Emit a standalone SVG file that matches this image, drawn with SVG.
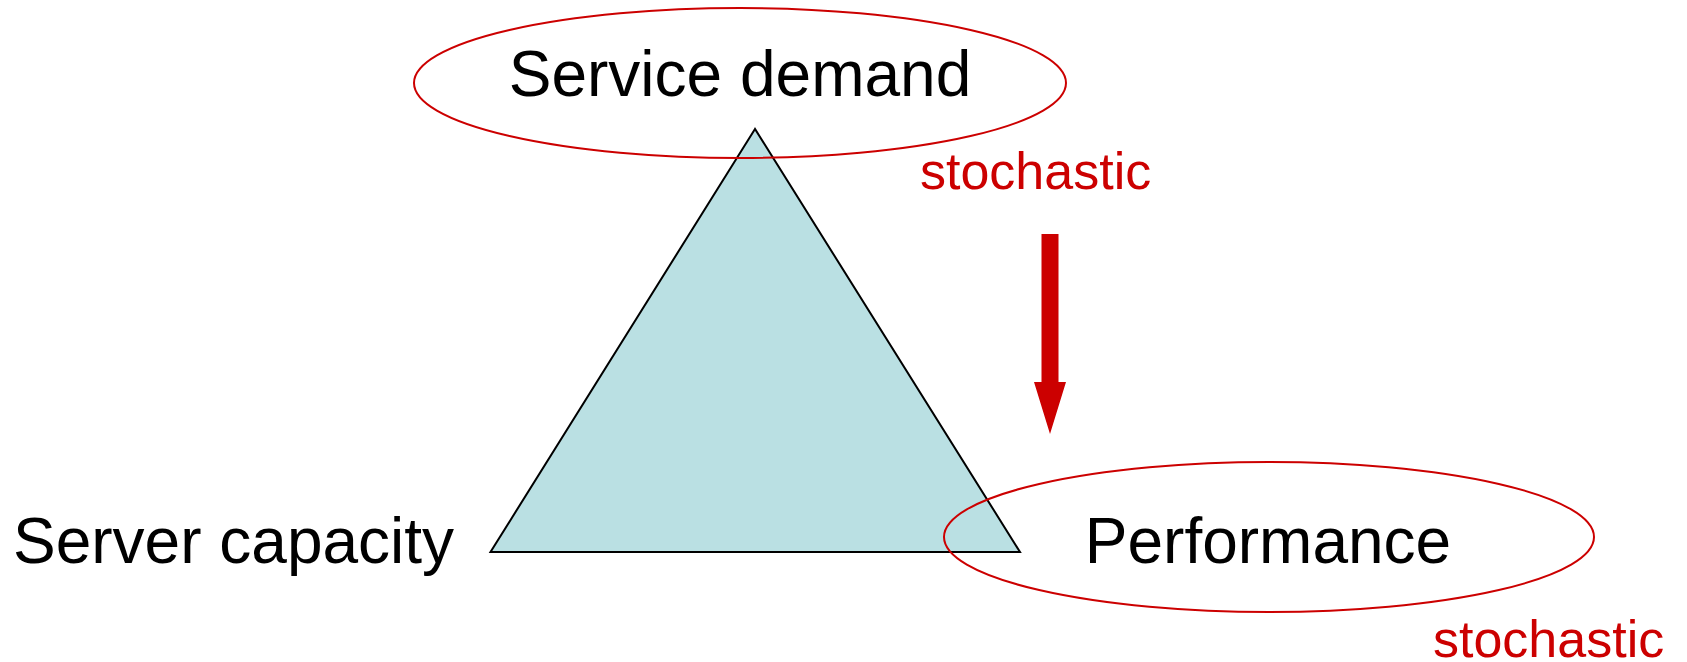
<svg xmlns="http://www.w3.org/2000/svg" width="1687" height="662" viewBox="0 0 1687 662">
  <style>
    .label { font-family: "Liberation Sans", Arial, sans-serif; font-size: 64px; fill: #000000; }
    .note { font-family: "Liberation Sans", Arial, sans-serif; font-size: 52px; fill: #CC0000; }
    .ring { fill: none; stroke: #CC0000; stroke-width: 2; }
  </style>
  <rect width="1687" height="662" fill="#FFFFFF"/>

  <!-- central triangle -->
  <g id="triangle">
    <polygon points="755,129 490.5,552 1020,552" fill="#BAE0E3" stroke="#000000" stroke-width="2" stroke-linejoin="miter"/>
  </g>

  <g id="service-demand">
    <ellipse class="ring" cx="740" cy="83" rx="326" ry="75"/>
    <text class="label" x="740" y="96" text-anchor="middle">Service demand</text>
  </g>

  <g id="server-capacity">
    <text class="label" x="13" y="563">Server capacity</text>
  </g>

  <g id="performance">
    <ellipse class="ring" cx="1269" cy="537" rx="325" ry="75"/>
    <text class="label" x="1268" y="563" text-anchor="middle">Performance</text>
  </g>

  <g id="annotations">
    <text class="note" x="920" y="189">stochastic</text>
    <text class="note" x="1433" y="657">stochastic</text>
  </g>

  <!-- block arrow from demand towards performance -->
  <g id="connectors">
    <polygon points="1041.5,234 1058.5,234 1058.5,382 1066,382 1050,434 1034,382 1041.5,382" fill="#CC0000"/>
  </g>
</svg>
